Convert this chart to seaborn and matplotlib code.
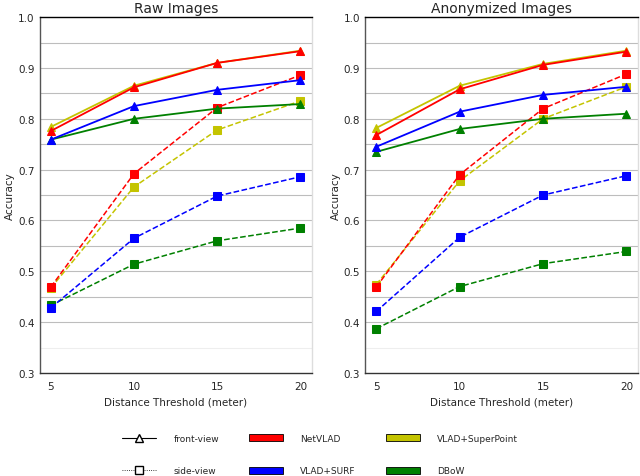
"""
Accuracy vs distance threshold, raw vs anonymized images
"""
import matplotlib
matplotlib.use("Agg")
import matplotlib.pyplot as plt
from matplotlib.lines import Line2D
from matplotlib.patches import Patch
import seaborn as sns

thresholds = [5, 10, 15, 20]
methods = ["DBoW", "VLAD+SURF", "VLAD+SuperPoint", "NetVLAD"]
colors = {"NetVLAD": "r", "VLAD+SuperPoint": "#c4c400", "VLAD+SURF": "b", "DBoW": "g"}

# raw images
raw_front = {
    "NetVLAD": [0.776, 0.862, 0.910, 0.933],
    "VLAD+SuperPoint": [0.784, 0.865, 0.910, 0.934],
    "VLAD+SURF": [0.759, 0.825, 0.857, 0.876],
    "DBoW": [0.759, 0.800, 0.820, 0.829],
}
raw_side = {
    "NetVLAD": [0.469, 0.692, 0.822, 0.886],
    "VLAD+SuperPoint": [0.467, 0.666, 0.778, 0.835],
    "VLAD+SURF": [0.428, 0.565, 0.648, 0.686],
    "DBoW": [0.433, 0.514, 0.560, 0.585],
}
# anonymized images
anon_front = {
    "NetVLAD": [0.768, 0.858, 0.906, 0.932],
    "VLAD+SuperPoint": [0.782, 0.865, 0.908, 0.934],
    "VLAD+SURF": [0.745, 0.814, 0.847, 0.863],
    "DBoW": [0.735, 0.780, 0.800, 0.810],
}
anon_side = {
    "NetVLAD": [0.469, 0.690, 0.820, 0.888],
    "VLAD+SuperPoint": [0.474, 0.678, 0.800, 0.863],
    "VLAD+SURF": [0.421, 0.567, 0.650, 0.688],
    "DBoW": [0.387, 0.470, 0.515, 0.539],
}

sns.set_style("white")
plt.rcParams["font.family"] = ["DejaVu Sans"]

fig = plt.figure(figsize=(6.4, 4.77), dpi=100)
ax1 = fig.add_axes([0.0625, 0.216, 0.425, 0.746])
ax2 = fig.add_axes([0.571, 0.216, 0.426, 0.746])


def draw_panel(ax, front, side, title):
    for y in [0.35 + 0.05 * i for i in range(13)]:
        c = "#eeeeee" if y < 0.36 else "#bdbdbd"
        ax.axhline(y, color=c, lw=0.8, zorder=0)
    for m in methods:
        sns.lineplot(x=thresholds, y=side[m], ax=ax, color=colors[m], marker="s",
                     markersize=6, markeredgecolor=colors[m], linestyle="--",
                     lw=1.1, zorder=3)
    for m in methods:
        sns.lineplot(x=thresholds, y=front[m], ax=ax, color=colors[m], marker="^",
                     markersize=6, markeredgecolor=colors[m], lw=1.3, zorder=4)
    ax.set_xlim(4.35, 20.7)
    ax.set_ylim(0.3, 1.0)
    ax.set_xticks(thresholds)
    ax.set_yticks([0.3, 0.4, 0.5, 0.6, 0.7, 0.8, 0.9, 1.0])
    ax.set_yticklabels([f"{v:.1f}" for v in ax.get_yticks()])
    ax.tick_params(axis="x", labelsize=7.5, length=3, color="#333333", pad=3)
    ax.tick_params(axis="y", labelsize=7.5, length=0, pad=4)
    ax.set_xlabel("Distance Threshold (meter)", fontsize=7.5, labelpad=4)
    ax.set_ylabel("Accuracy", fontsize=7.5, labelpad=2)
    ax.set_title(title, fontsize=10, pad=4)
    ax.spines["top"].set_color("black")
    ax.spines["left"].set_color("#555555")
    ax.spines["bottom"].set_color("#333333")
    ax.spines["right"].set_color("#dddddd")
    for s in ax.spines.values():
        s.set_linewidth(1.0)


draw_panel(ax1, raw_front, raw_side, "Raw Images")
draw_panel(ax2, anon_front, anon_side, "Anonymized Images")

handles = [
    Line2D([], [], color="black", lw=0.8, marker="^", markersize=6,
           markerfacecolor="white", markeredgecolor="black"),
    Line2D([], [], color="black", lw=0.6, linestyle=":", marker="s", markersize=6,
           markerfacecolor="white", markeredgecolor="black"),
    Patch(facecolor="r", edgecolor="black", lw=0.6),
    Patch(facecolor="b", edgecolor="black", lw=0.6),
    Patch(facecolor=colors["VLAD+SuperPoint"], edgecolor="black", lw=0.6),
    Patch(facecolor="g", edgecolor="black", lw=0.6),
]
labels = ["front-view", "side-view", "NetVLAD", "VLAD+SURF", "VLAD+SuperPoint", "DBoW"]
fig.legend(handles, labels, ncol=3, loc="center", bbox_to_anchor=(0.5, 0.045),
           frameon=False, fontsize=6.5, handlelength=3.8, handleheight=0.8,
           handletextpad=1.9, columnspacing=3.3, labelspacing=2.6)

fig.savefig("out.png", dpi=100)
